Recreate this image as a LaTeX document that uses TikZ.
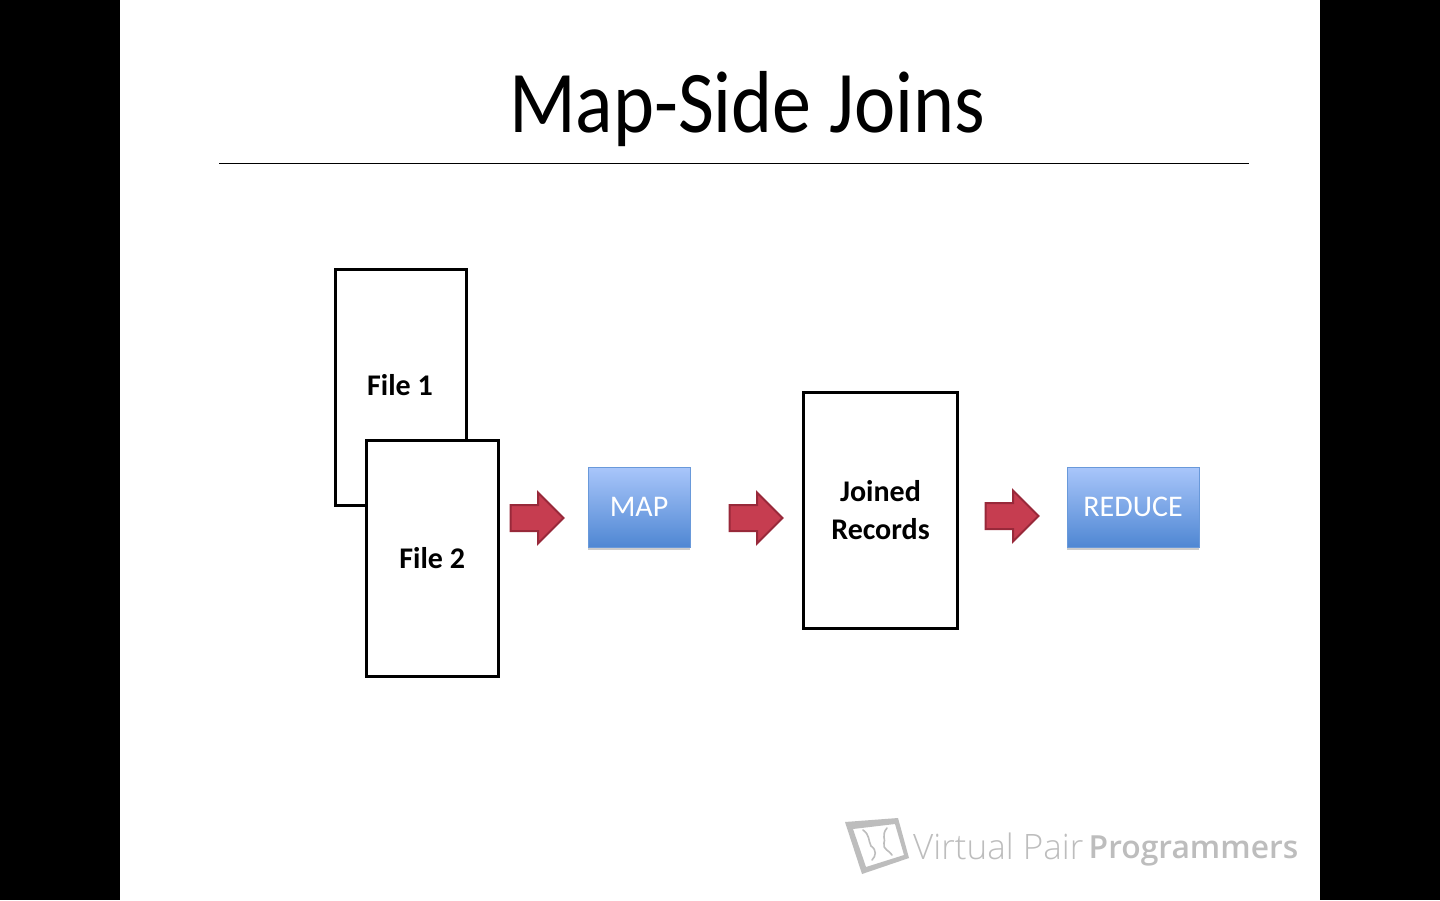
\documentclass[tikz,border=0pt]{standalone}
\usepackage{fontspec}
\setmainfont{Carlito}
\newfontfamily\wmlight{Open Sans Light}
\newfontfamily\wmbold{Open Sans}[BoldFont={Open Sans Semibold}]
\usetikzlibrary{shapes.arrows,shadows}
\definecolor{arrowfill}{HTML}{C63D50}
\definecolor{arrowedge}{HTML}{98293A}
\definecolor{boxtop}{HTML}{A9C6FA}
\definecolor{boxbot}{HTML}{4F87D3}
\definecolor{wmgrey}{HTML}{BDBDBD}
\tikzset{
  x=1pt,y=-1pt,
  filebox/.style={draw=black,line width=3pt,fill=white,anchor=north west,inner sep=0pt,outer sep=0pt,align=center,
    font=\fontsize{30}{38}\selectfont\bfseries},
  flowarrow/.style={single arrow,draw=arrowedge,line width=2pt,fill=arrowfill,inner sep=0pt,outer sep=0pt,
    single arrow head extend=12.5pt,minimum height=53pt},
  bluebox/.style={draw=boxbot!85!white,line width=0.8pt,top color=boxtop,bottom color=boxbot,anchor=north west,inner sep=0pt,outer sep=0pt,
    text=white,font=\fontsize{30}{34}\selectfont,
    drop shadow={shadow xshift=0pt,shadow yshift=-3pt,fill=black,opacity=0.2}},
  logoline/.style={draw=wmgrey,line width=1.6pt,line cap=round,line join=round}
}
\newcommand{\shaftstrut}{\rule{0pt}{24pt}}
\begin{document}
\begin{tikzpicture}
\useasboundingbox (0,0) rectangle (1440,900);
\fill[white] (0,0) rectangle (1440,900);
\fill[black] (0,0) rectangle (120,900);
\fill[black] (1320,0) rectangle (1440,900);
\node[anchor=base,inner sep=0pt,xscale=0.887,transform shape,font=\fontsize{88}{90}\selectfont] (title) at (747,132) {Map-Side Joins};
\coordinate (ruleL) at (219,163);
\coordinate (ruleR) at (1249,163);
\draw[black,line width=1pt] (ruleL) -- (ruleR);
\node[filebox,minimum width=131.5pt,minimum height=236pt] (file1) at (335,269) {};
\node[inner sep=0pt,font=\fontsize{30}{38}\selectfont\bfseries] (file1t) at (400,385) {File 1};
\node[filebox,minimum width=131.5pt,minimum height=236pt] (file2) at (366.5,440) {File 2};
\node[filebox,minimum width=154pt,minimum height=236pt] (joined) at (803.5,392) {Joined\\Records};
\node[bluebox,minimum width=102pt,minimum height=80pt] (map) at (588,467) {MAP};
\node[bluebox,minimum width=132pt,minimum height=80pt] (reduce) at (1067,467) {REDUCE};
\node[flowarrow] (a1) at (530.5,518) {\shaftstrut};
\node[flowarrow] (a2) at (749.5,518) {\shaftstrut};
\node[flowarrow] (a3) at (1005.5,516) {\shaftstrut};
% logo
\fill[wmgrey,even odd rule] (845,822) -- (898,818) -- (909,858) -- (862,874) -- cycle
  (853,829) -- (895,824) -- (904,855) -- (866,867) -- cycle;
\draw[logoline] (863,830) .. controls (870,835) and (868,840) .. (871,846) .. controls (877,850) and (876,856) .. (872,860);
\draw[logoline] (887,828) .. controls (881,835) and (886,840) .. (884,843) .. controls (882,849) and (890,851) .. (892,855);
\node[anchor=base west,inner sep=0pt,text=wmgrey,font=\wmlight\fontsize{35}{40}\selectfont] (wm1) at (913,859) {Virtual Pair};
\node[anchor=base west,inner sep=0pt,text=wmgrey,font=\wmbold\bfseries\fontsize{31.8}{40}\selectfont] (wm2) at (1088.5,858) {Programmers};
\end{tikzpicture}
\end{document}
